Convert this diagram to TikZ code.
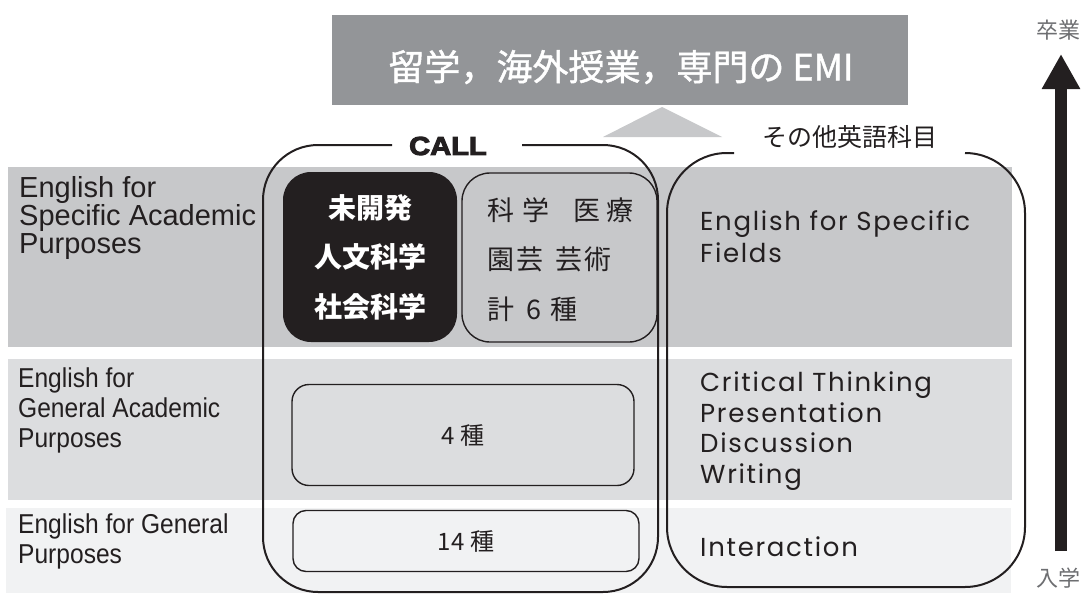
\documentclass[tikz,border=0pt]{standalone}
\usepackage{fontspec}
\usetikzlibrary{arrows.meta}
\setmainfont{Liberation Sans}
\newfontfamily\jp{Noto Sans CJK JP}
\newfontfamily\jptop{Noto Sans CJK JP}[FakeBold=1.2]
\newfontfamily\narrowfont{Liberation Sans}[FakeStretch=0.9]
\newfontfamily\geo{Poppins}[LetterSpace=6.5]
\newfontfamily\callfont{Liberation Sans Bold}[FakeStretch=1.12,FakeBold=4]
\definecolor{bandA}{HTML}{C7C8CA}
\definecolor{bandB}{HTML}{DCDDDF}
\definecolor{bandC}{HTML}{F1F2F3}
\definecolor{topgray}{HTML}{939598}
\definecolor{ink}{HTML}{231F20}
\definecolor{soft}{HTML}{6D6E71}
\tikzset{
  lbl/.style={anchor=north west, inner sep=0pt, align=left, text=ink},
  bracket/.style={draw=ink, line width=2pt, rounded corners=55pt},
  subbox/.style={draw=ink, line width=1.4pt, inner sep=0pt},
}
\begin{document}
\begin{tikzpicture}[x=1pt,y=-1pt]
\useasboundingbox (0,0) rectangle (1087,594);
% bands
\fill[bandA] (8,167) rectangle (1012,347);
\fill[bandB] (8,359) rectangle (1012,500);
\fill[bandC] (6,508) rectangle (1011,593);
% top box
\node[fill=topgray, minimum width=576pt, minimum height=90pt, inner sep=0pt] (top) at (620,60) {};
\node[text=white, font=\jptop\fontsize{36}{36}\selectfont, inner sep=0pt] (toptxt) at (621,67)
      {留学，海外授業，専門の EMI};
\fill[bandA] (662,107) -- (722,137) -- (603,137) -- cycle;
% left labels
\node[lbl, font=\fontsize{29}{28}\selectfont] (esap) at (19,176)
  {English for\\Specific Academic\\Purposes};
\node[lbl, font=\narrowfont\fontsize{27.3}{30}\selectfont] (egap) at (18,368)
  {English for\\General Academic\\Purposes};
\node[lbl, font=\narrowfont\fontsize{27.3}{30}\selectfont] (egp) at (18,514)
  {English for General\\Purposes};
% CALL bracket
\node[font=\callfont\fontsize{26}{26}\selectfont, text=ink, inner sep=0pt] (call) at (448,146) {CALL};
\coordinate (c1) at (392,145);
\coordinate (c2) at (522,145);
\draw[bracket] (c1) -- (263,145) -- (263,592) -- (658,592) -- (658,145) -- (c2);
% other bracket
\node[font=\jp\fontsize{25}{25}\selectfont, text=ink, inner sep=0pt] (other) at (850,137) {その他英語科目};
\coordinate (o1) at (734,153);
\coordinate (o2) at (965,153);
\draw[bracket, rounded corners=60pt] (o1) -- (667,153) -- (667,587) -- (1025,587) -- (1025,153) -- (o2);
% inner boxes
\node[fill=ink, rounded corners=28pt, minimum width=174pt, minimum height=170pt, inner sep=0pt] (blk) at (370,257) {};
\node[text=white, font=\jp\bfseries\fontsize{28}{49.5}\selectfont, align=center, inner sep=0pt] (blktxt) at (blk.center)
  {未開発\\人文科学\\社会科学};
\node[subbox, rounded corners=28pt, minimum width=195pt, minimum height=169pt] (gry) at (559.5,257.5) {};
\node[lbl, font=\jp\fontsize{27}{49.5}\selectfont] (grytxt) at (487,197)
  {科\kern8pt 学\kern24pt 医\kern6pt 療\\園\kern2pt 芸\kern12pt 芸\kern2pt 術\\計\kern12pt 6\kern9pt 種};
\node[subbox, rounded corners=17pt, minimum width=342pt, minimum height=101pt,
      font=\jp\fontsize{24}{24}\selectfont, text=ink] (four) at (463,435) {4 種};
\node[subbox, rounded corners=13pt, minimum width=346pt, minimum height=61pt,
      font=\jp\fontsize{24}{24}\selectfont, text=ink] (fourteen) at (466,541) {14 種};
% right column
\node[lbl, font=\geo\fontsize{26}{32}\selectfont] (esf) at (700,210)
  {English for Specific\\Fields};
\node[lbl, font=\geo\fontsize{26}{30.5}\selectfont] (skills) at (700,372)
  {Critical Thinking\\Presentation\\Discussion\\Writing};
\node[lbl, font=\geo\fontsize{26}{30}\selectfont] (inter) at (700,537) {Interaction};
% arrow
\coordinate (a0) at (1061,551);
\coordinate (a1) at (1061,54);
\draw[ink, line width=12pt, -{Triangle[length=35pt,width=36pt]}] (a0) -- (a1);
\node[font=\jp\fontsize{22}{22}\selectfont, text=soft] (grad) at (1058,30) {卒業};
\node[font=\jp\fontsize{22}{22}\selectfont, text=soft] (enter) at (1058,578) {入学};
\end{tikzpicture}
\end{document}
